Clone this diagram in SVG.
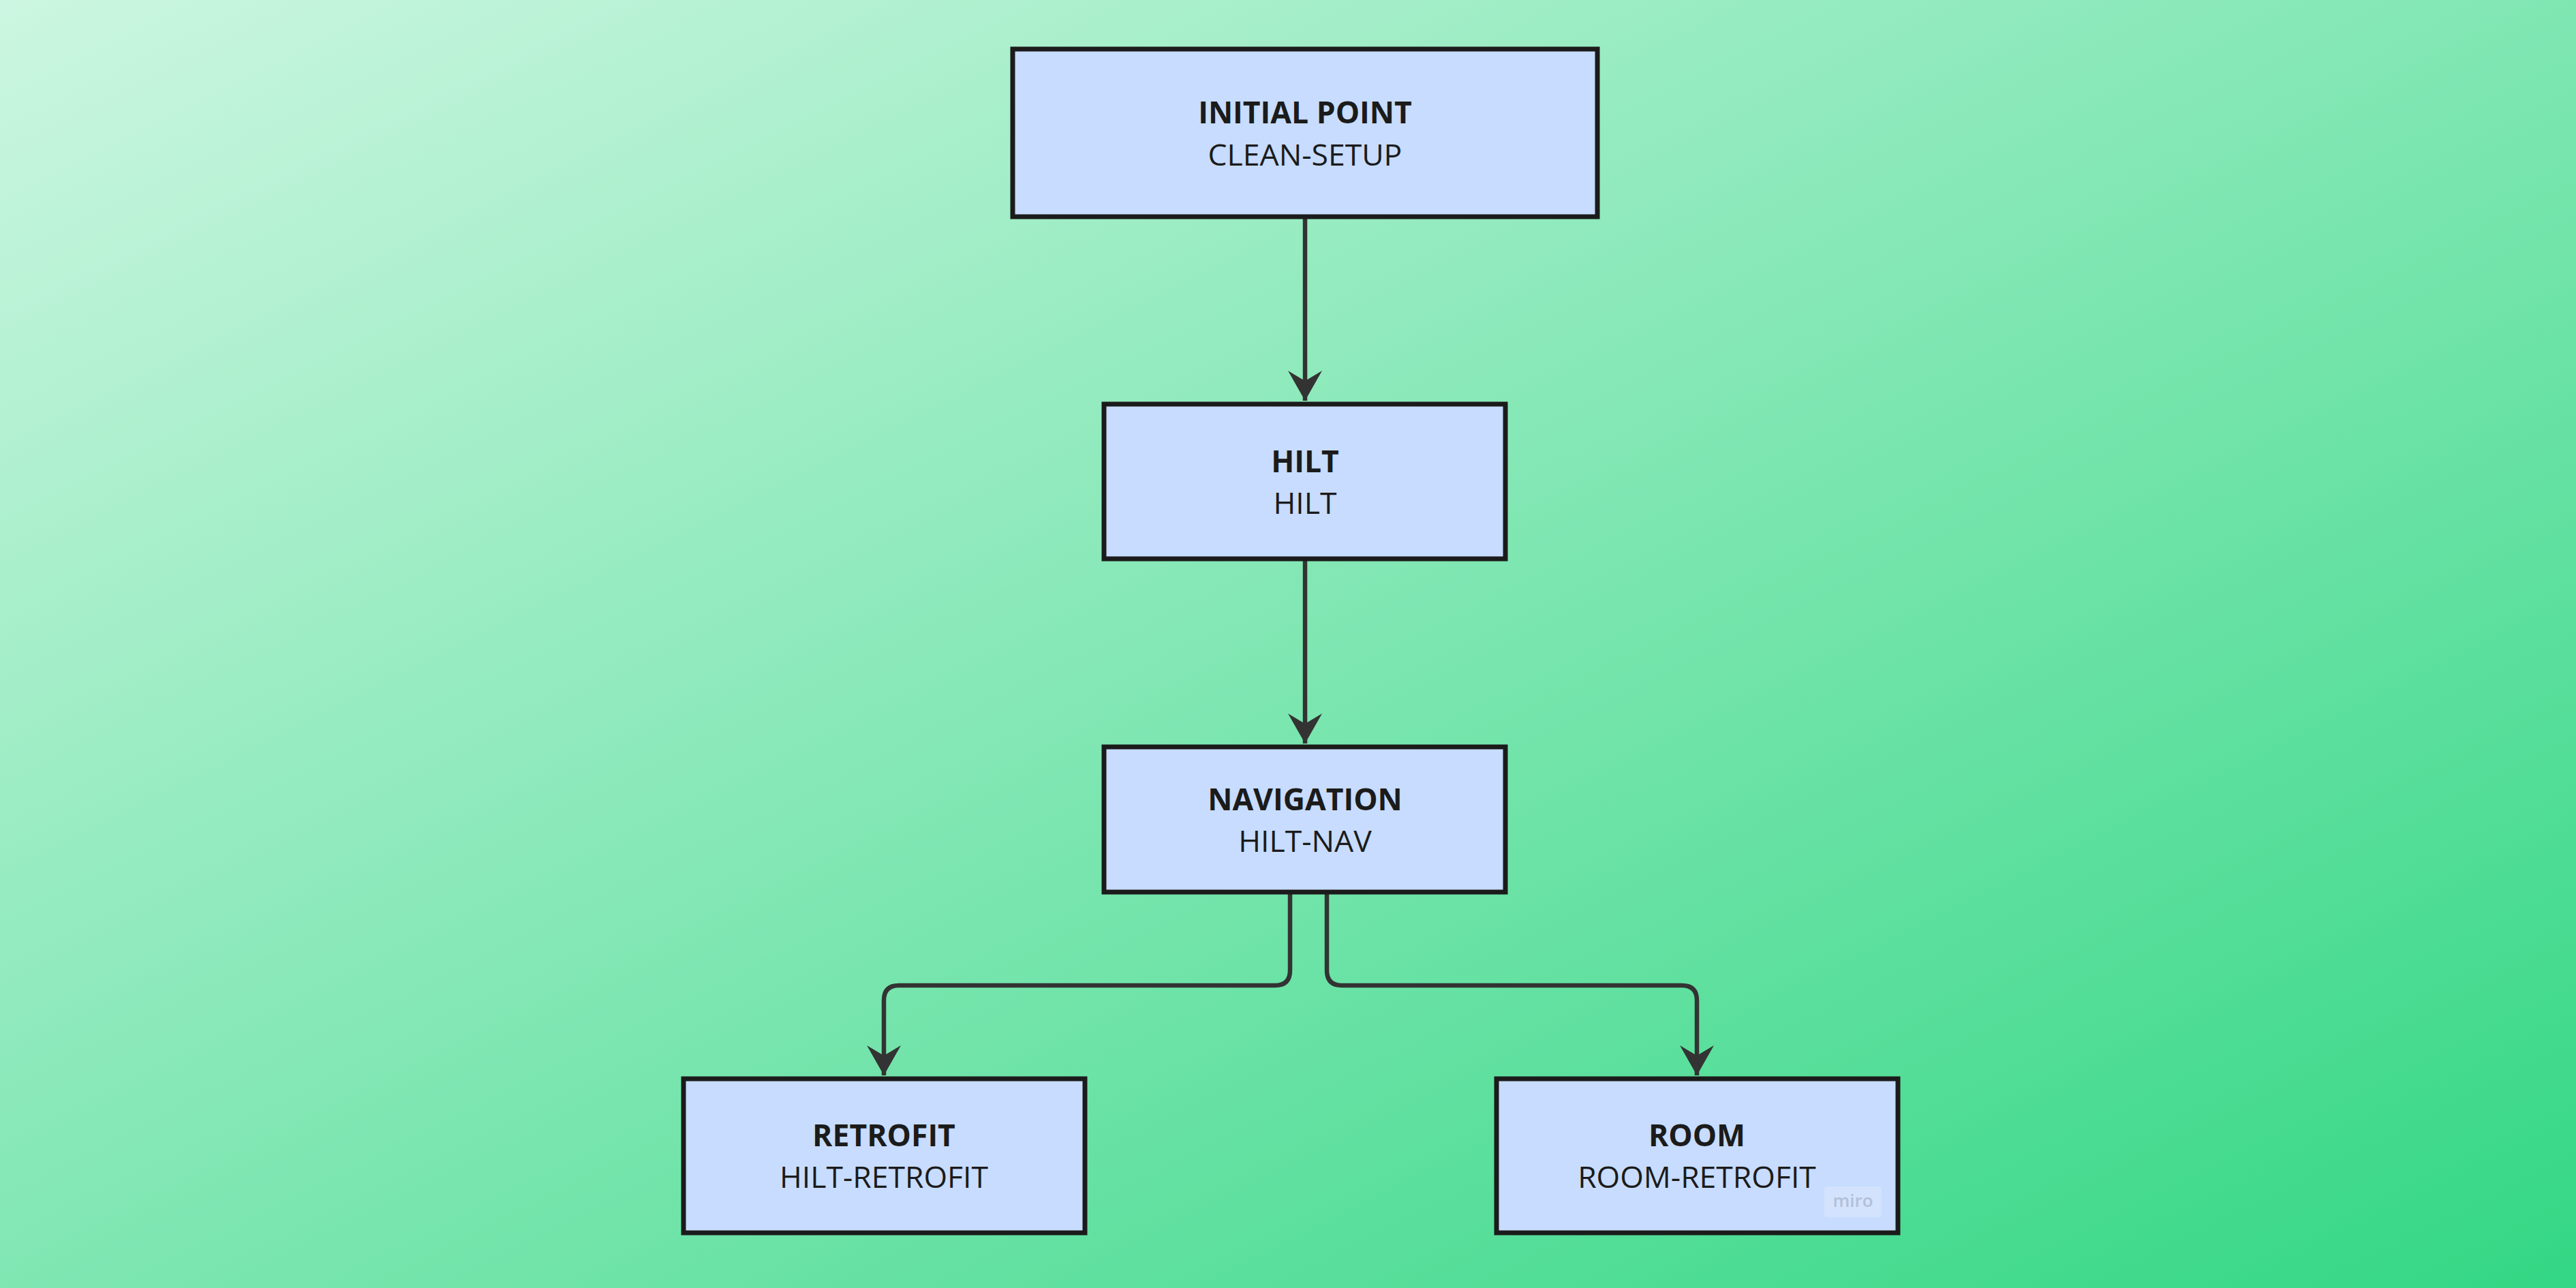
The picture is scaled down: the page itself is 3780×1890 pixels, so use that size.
<svg xmlns="http://www.w3.org/2000/svg" width="3780" height="1890" viewBox="0 0 3780 1890">
  <defs>
    <linearGradient id="bg" x1="0" y1="0" x2="1" y2="1">
      <stop offset="0" stop-color="#ccf6e1"/>
      <stop offset="1" stop-color="#33d784"/>
    </linearGradient>
    <marker id="arrow" markerUnits="userSpaceOnUse" markerWidth="60" markerHeight="60" viewBox="-50 -30 60 60" refX="0" refY="0" orient="auto">
      <path d="M0,0 L-44,-25 L-29,0 L-44,25 Z" fill="#333333"/>
    </marker>
  </defs>
  <style>
    .box { fill: #c7dcfe; stroke: #1b1b1b; stroke-width: 7; }
    .title { font-family: "Open Sans", "Noto Sans", sans-serif; font-weight: 700; font-size: 44.5px; fill: #1b1b1b; text-anchor: middle; }
    .sub { font-family: "Open Sans", "Noto Sans", sans-serif; font-weight: 400; font-size: 44.5px; fill: #1b1b1b; text-anchor: middle; }
    .edge { fill: none; stroke: #333333; stroke-width: 6.5; marker-end: url(#arrow); }
  </style>
  <rect x="0" y="0" width="3780" height="1890" fill="url(#bg)"/>

  <g id="connectors">
    <path class="edge" d="M1915,321 L1915,588"/>
    <path class="edge" d="M1915,823 L1915,1091"/>
    <path class="edge" d="M1893,1312 L1893,1424 Q1893,1446 1871,1446 L1319,1446 Q1297,1446 1297,1468 L1297,1578"/>
    <path class="edge" d="M1947,1312 L1947,1424 Q1947,1446 1969,1446 L2468,1446 Q2490,1446 2490,1468 L2490,1578"/>
  </g>

  <g id="node-initial-point">
    <rect class="box" x="1486" y="72" width="858" height="246"/>
    <text class="title" x="1915" y="181">INITIAL POINT</text>
    <text class="sub" x="1915" y="243">CLEAN-SETUP</text>
  </g>

  <g id="node-hilt">
    <rect class="box" x="1620" y="593" width="589" height="227"/>
    <text class="title" x="1915" y="693">HILT</text>
    <text class="sub" x="1915" y="754">HILT</text>
  </g>

  <g id="node-navigation">
    <rect class="box" x="1620" y="1096" width="589" height="213"/>
    <text class="title" x="1915" y="1189">NAVIGATION</text>
    <text class="sub" x="1915" y="1250">HILT-NAV</text>
  </g>

  <g id="node-retrofit">
    <rect class="box" x="1003" y="1583" width="589" height="226"/>
    <text class="title" x="1297" y="1682">RETROFIT</text>
    <text class="sub" x="1297" y="1743">HILT-RETROFIT</text>
  </g>

  <g id="node-room">
    <rect class="box" x="2196" y="1583" width="589" height="226"/>
    <text class="title" x="2490" y="1682">ROOM</text>
    <text class="sub" x="2490" y="1743">ROOM-RETROFIT</text>
    <rect x="2677" y="1741" width="84" height="45" rx="4" fill="#d3e3fd"/>
    <text x="2719" y="1771" font-family="'Open Sans', 'Noto Sans', sans-serif" font-size="26" font-weight="600" fill="#b4c0d8" text-anchor="middle">miro</text>
  </g>
</svg>
